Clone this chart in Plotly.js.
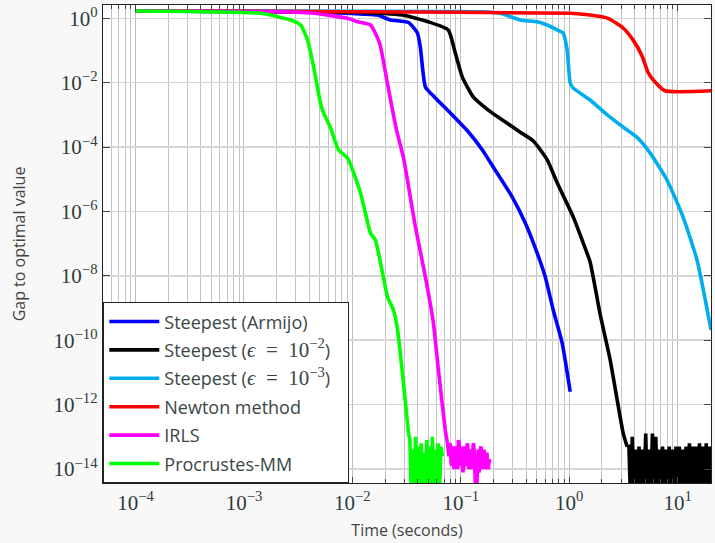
<!DOCTYPE html>
<html>
<head>
<meta charset="utf-8">
<script src="https://cdn.plot.ly/plotly-3.0.1.min.js"></script>
<style>html,body{margin:0;padding:0;background:#f8f8f8;}</style>
</head>
<body>
<div id="chart" style="width:715px;height:543px;"></div>
<script>
// ---- data (time in seconds, gap to optimal value) ----
const seriesNames = [
  'Steepest (Armijo)',
  'Steepest (<span style="font-family:Liberation Serif;font-size:21px"><i>ϵ</i>\u2002=\u200210<sup>−2</sup></span>)\u2002\u2009',
  'Steepest (<span style="font-family:Liberation Serif;font-size:21px"><i>ϵ</i>\u2002=\u200210<sup>−3</sup></span>)\u2002\u2009',
  'Newton method',
  'IRLS',
  'Procrustes-MM'
];

const blueT = [1e-4, 3.16e-3, 0.01, 0.017, 0.0224, 0.0329, 0.0398, 0.0424, 0.0471, 0.057, 0.08, 0.115, 0.158, 0.207, 0.298, 0.393, 0.506, 0.6, 0.711, 0.859, 1.02];
const blueY = [1.69, 1.58, 1.41, 1.26, 0.885, 0.74, 0.349, 0.12, 7.4e-3, 3.6e-3, 1.15e-3, 3.2e-4, 8.1e-5, 1.95e-5, 2.8e-6, 4.4e-7, 5.1e-8, 9.3e-9, 8.7e-10, 8.3e-11, 2.5e-12];

const blackT = [1e-4, 0.01, 0.0289, 0.0501, 0.0766, 0.0889, 0.103, 0.130, 0.179, 0.274, 0.353, 0.466, 0.626, 0.773, 1.087, 1.315, 1.556, 1.93, 2.38, 3.14, 3.42];
const blackY = [1.69, 1.55, 1.26, 0.78, 0.434, 0.083, 0.0151, 3.6e-3, 1.41e-3, 5.2e-4, 2.9e-4, 1.55e-4, 4.0e-5, 7.8e-6, 6.8e-7, 1.29e-7, 2.7e-8, 6.2e-10, 2.5e-11, 1.3e-13, 4.9e-14];
const blackNoiseT = [3.42, 3.548, 3.673, 3.811, 3.945, 4.093, 4.236, 4.395, 4.550, 4.721, 4.887, 5.070, 5.248, 5.445, 5.636, 5.848, 6.053, 6.281, 6.501, 6.745, 6.982, 7.244, 7.499, 7.780, 8.054, 8.356, 8.650, 8.974, 9.290, 9.638, 9.977, 10.35, 10.72, 11.12, 11.51, 11.94, 12.36, 12.82, 13.27, 13.77, 14.26, 14.79, 15.31, 15.89, 16.44, 17.06, 17.66, 18.32, 18.97, 19.68, 20.42];
const blackNoiseY = [4.9e-14, 5e-14, 1.26e-15, 1e-13, 7.9e-16, 4e-14, 2.5e-15, 5e-14, 1e-15, 4e-14, 1.6e-15, 1.26e-13, 6.3e-16, 4e-14, 2e-15, 1.26e-13, 1e-15, 1e-13, 1.26e-15, 4e-14, 7.9e-16, 5e-14, 2.5e-15, 4e-14, 1e-15, 5e-14, 1.6e-15, 4e-14, 6.3e-16, 5e-14, 2e-15, 5e-14, 1e-15, 4e-14, 1.26e-15, 5e-14, 7.9e-16, 6.3e-14, 2.5e-15, 5e-14, 1e-15, 5e-14, 1.6e-15, 6.3e-14, 6.3e-16, 5e-14, 2e-15, 6.3e-14, 1e-15, 5e-14, 1.26e-15];

const lightT = [1e-4, 0.151, 0.231, 0.353, 0.506, 0.625, 0.773, 0.877, 0.955, 1.02, 1.084, 1.556, 2.234, 3.133, 4.217, 5.559, 7.96, 11.19, 15.07, 20.28];
const lightY = [1.69, 1.60, 1.43, 0.885, 0.78, 0.62, 0.434, 0.349, 0.105, 9.8e-3, 6.9e-3, 2.9e-3, 1e-3, 4.2e-4, 2.0e-4, 6.6e-5, 9.5e-6, 6.8e-7, 3.1e-8, 2.1e-10];

const redT = [1e-4, 0.01, 1.02, 1.556, 2.28, 3.133, 3.87, 4.69, 5.32, 6.18, 7.64, 20.3];
const redY = [1.69, 1.6, 1.43, 1.26, 1.0, 0.50, 0.214, 0.068, 0.021, 0.0105, 5.6e-3, 5.6e-3];

const magT = [1e-4, 2.18e-3, 4.40e-3, 9.02e-3, 0.0111, 0.0147, 0.0178, 0.021, 0.0255, 0.0296, 0.0381, 0.0471, 0.0558, 0.0621, 0.0719, 0.0752];
const magY = [1.69, 1.6, 1.43, 1.0, 0.78, 0.62, 0.171, 9.8e-3, 3.4e-4, 4.6e-5, 3.3e-7, 9.3e-9, 3.5e-10, 1.2e-11, 1.6e-13, 6.5e-14];
const magNoiseT = [0.0752, 0.0776, 0.0788, 0.0800, 0.0813, 0.0826, 0.0838, 0.0851, 0.0865, 0.0879, 0.0892, 0.0906, 0.0920, 0.0935, 0.0950, 0.0964, 0.0980, 0.0995, 0.1010, 0.1026, 0.1042, 0.1059, 0.1075, 0.1091, 0.1109, 0.1127, 0.1144, 0.1161, 0.1180, 0.1199, 0.1217, 0.1236, 0.1256, 0.1276, 0.1295, 0.1315, 0.1336, 0.1358, 0.1379, 0.1400, 0.1422, 0.1445, 0.1467, 0.1489, 0.1513, 0.1538, 0.1561, 0.1585, 0.1611, 0.1637, 0.1662, 0.1687, 0.1714, 0.1742, 0.1768, 0.1795, 0.1824, 0.1854];
const magNoiseY = [6.5e-14, 2.5e-14, 5e-14, 6.3e-14, 1.6e-14, 1.26e-14, 5e-14, 4e-14, 1e-14, 1.26e-14, 4e-14, 5e-14, 1.6e-14, 1e-14, 7.9e-14, 6.3e-14, 1.26e-14, 1.6e-14, 3.2e-14, 5e-14, 7.9e-15, 1e-14, 5e-14, 4e-14, 1.6e-14, 1.26e-14, 6.3e-14, 5e-14, 1e-14, 1.26e-14, 2.5e-14, 4e-14, 1.26e-14, 1e-14, 5e-14, 6.3e-14, 2e-14, 2.5e-15, 1e-15, 2e-15, 3.2e-14, 4e-14, 7.9e-15, 1e-14, 4e-14, 5e-14, 1.26e-14, 1e-14, 3.2e-14, 4e-14, 1e-14, 1.26e-14, 2.5e-14, 3.2e-14, 1.26e-14, 1e-14, 2e-14, 1.6e-14];

const greenT = [1e-4, 1.43e-3, 2.69e-3, 3.33e-3, 3.86e-3, 4.39e-3, 5.08e-3, 5.42e-3, 6.30e-3, 7.45e-3, 9.02e-3, 1.19e-2, 1.47e-2, 1.63e-2, 2.11e-2, 2.39e-2, 2.61e-2, 3.29e-2];
const greenY = [1.69, 1.43, 0.885, 0.62, 0.209, 0.031, 2.3e-3, 1.15e-3, 3.9e-4, 8.1e-5, 4.6e-5, 3.7e-6, 2.1e-7, 1.3e-7, 2.2e-9, 8.7e-10, 2.1e-10, 1.3e-13];
const greenNoiseT = [0.0329, 0.0339, 0.0349, 0.0360, 0.0371, 0.0382, 0.0394, 0.0406, 0.0418, 0.0431, 0.0444, 0.0457, 0.0471, 0.0485, 0.0500, 0.0515, 0.0531, 0.0547, 0.0564, 0.0581, 0.0598, 0.0617, 0.0635, 0.0655, 0.0675];
const greenNoiseY = [1.3e-13, 7.9e-14, 1.3e-15, 4e-14, 1e-15, 1e-13, 1.6e-15, 5e-14, 8e-16, 6.3e-14, 1.3e-15, 3.2e-14, 1e-15, 7.9e-14, 1.6e-15, 5e-14, 6.3e-16, 1e-13, 1.3e-15, 4e-14, 1e-15, 6.3e-14, 1.6e-15, 5e-14, 2.5e-14];

const xTickVals = [1e-4, 1e-3, 1e-2, 1e-1, 1, 10];
const xTickExp = ['−4', '−3', '−2', '−1', '0', '1'];
const yTickVals = [1e-14, 1e-12, 1e-10, 1e-8, 1e-6, 1e-4, 1e-2, 1];
const yTickExp = ['−14', '−12', '−10', '−8', '−6', '−4', '−2', '0'];

// ---- build ----
const powLabel = e => '10<sup>' + e + '</sup>';
const colors = ['#0000ff', '#000000', '#00aeef', '#ff0000', '#ff00ff', '#00ff00'];
const mainX = [blueT, blackT, lightT, redT, magT, greenT];
const mainY = [blueY, blackY, lightY, redY, magY, greenY];
const noiseX = [null, blackNoiseT, null, null, magNoiseT, greenNoiseT];
const noiseY = [null, blackNoiseY, null, null, magNoiseY, greenNoiseY];

const traces = [];
seriesNames.forEach((n, i) => {
  traces.push({
    type: 'scatter', mode: 'lines', name: n, x: mainX[i], y: mainY[i],
    legendgroup: 'g' + i,
    line: {color: colors[i], width: 3.6, shape: 'spline', smoothing: 0.5}
  });
  if (noiseX[i]) {
    traces.push({
      type: 'scatter', mode: 'lines', name: n, x: noiseX[i], y: noiseY[i],
      legendgroup: 'g' + i, showlegend: false,
      line: {color: colors[i], width: 3.6}
    });
  }
});

// minor tick positions (2..9 of each decade)
const minorX = [];
for (let e = -5; e <= 1; e++) for (let d = 2; d <= 9; d++) minorX.push(d * Math.pow(10, e));

const tickFont = {family: 'Liberation Serif, serif', size: 21, color: '#2e3b3b'};
const layout = {
  width: 715, height: 543,
  margin: {l: 103, r: 4, t: 5, b: 60},
  paper_bgcolor: '#f8f8f8', plot_bgcolor: '#ffffff',
  showlegend: true,
  xaxis: {
    type: 'log', range: [-4.3, 1.307],
    tickmode: 'array', tickvals: xTickVals, ticktext: xTickExp.map(powLabel),
    tickfont: tickFont,
    ticks: 'inside', ticklen: 6, tickcolor: '#444', tickwidth: 1,
    showgrid: true, gridcolor: '#bdbdbd', gridwidth: 1,
    minor: {tickmode: 'array', tickvals: minorX, ticks: 'inside', ticklen: 4, tickcolor: '#444', showgrid: true, gridcolor: '#c4c4c4', gridwidth: 1},
    showline: true, linecolor: '#222', linewidth: 1.3, mirror: 'ticks',
    zeroline: false,
    title: {text: 'Time (seconds)', font: {family: 'Open Sans, sans-serif', size: 16, color: '#444'}, standoff: 11}
  },
  yaxis: {
    type: 'log', range: [-14.435, 0.413],
    tickmode: 'array', tickvals: yTickVals, ticktext: yTickExp.map(powLabel),
    tickfont: tickFont,
    ticks: 'inside', ticklen: 7, tickcolor: '#444', tickwidth: 1,
    showgrid: true, gridcolor: '#d6d6d6', gridwidth: 1.5,
    showline: true, linecolor: '#222', linewidth: 1.3, mirror: 'ticks',
    zeroline: false,
    title: {text: 'Gap to optimal value', font: {family: 'Open Sans, sans-serif', size: 16, color: '#444'}, standoff: 24}
  },
  legend: {
    x: 0, y: 0, xanchor: 'left', yanchor: 'bottom', xref: 'paper', yref: 'paper',
    bgcolor: '#ffffff', bordercolor: '#222', borderwidth: 1.3,
    font: {family: 'Open Sans, sans-serif', size: 18, color: '#3a4646'},
    itemwidth: 50, tracegroupgap: 2, traceorder: 'grouped'
  }
};

Plotly.newPlot('chart', traces, layout, {displayModeBar: false, staticPlot: true});
</script>
</body>
</html>
